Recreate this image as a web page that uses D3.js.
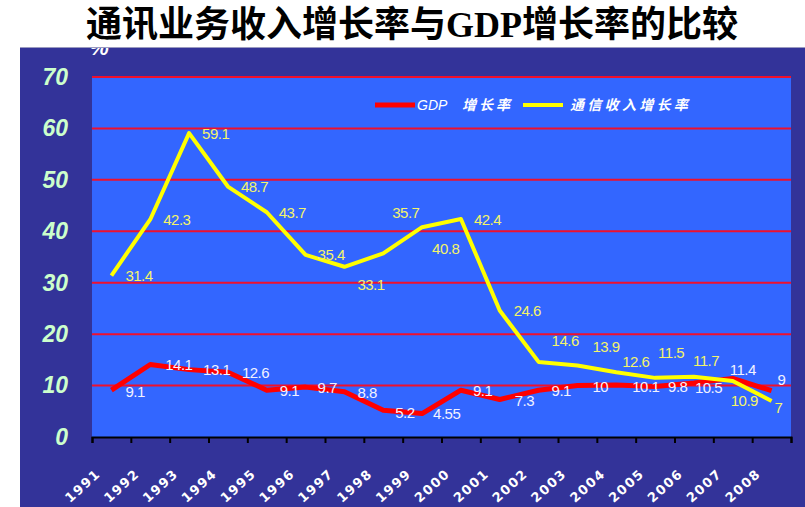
<!DOCTYPE html>
<html>
<head>
<meta charset="utf-8">
<script src="https://cdn.jsdelivr.net/npm/d3@7"></script>
<style>
  body { margin: 0; background: #fff; }
  svg { display: block; }
</style>
</head>
<body>
<div id="chart"></div>
<script>
// chart values
const years = ["1991","1992","1993","1994","1995","1996","1997","1998","1999",
               "2000","2001","2002","2003","2004","2005","2006","2007","2008"];
const gdpGrowth = [9.1, 14.1, 13.1, 12.6, 9.1, 9.7, 8.8, 5.2, 4.55,
                   9.1, 7.3, 9.1, 10, 10.1, 9.8, 10.5, 11.4, 9];
const telecomGrowth = [31.4, 42.3, 59.1, 48.7, 43.7, 35.4, 33.1, 35.7, 40.8,
                       42.4, 24.6, 14.6, 13.9, 12.6, 11.5, 11.7, 10.9, 7];
const yTicks = [0, 10, 20, 30, 40, 50, 60, 70];
const seriesNames = ["GDP 增长率", "通信收入增长率"];
const titleText = ["通讯业务收入增长率与", "GDP", "增长率的比较"];

// label nudges (px from each point), layout only
const gdpNudge = [[14,2],[15,0],[14,0],[14,1],[13,1],[12,1],[13,1],[12,2],[11,0],
                  [12,1],[15,1],[13,1],[15,1],[16,2],[13,0],[1,5],[-3,-9],[6,-11]];
const telNudge = [[14,0],[13,0],[13,1],[13,0],[12,0],[12,0],[13,18],[9,-41],[10,22],
                  [13,1],[14,0],[13,-21],[15,-19],[6,-10],[3,-25],[-1,-16],[-2,20],[3,7]];

const W = 805, H = 507;
const plot = {left: 92, right: 791, top: 77, bottom: 437};

const svg = d3.select("#chart").append("svg")
    .attr("width", W)
    .attr("height", H);

// navy backdrop
svg.append("rect")
    .attr("x", 20).attr("y", 47)
    .attr("width", W - 20).attr("height", H - 47)
    .attr("fill", "#333399");
svg.append("line")
    .attr("x1", 20).attr("x2", W).attr("y1", 47.5).attr("y2", 47.5)
    .attr("stroke", "#9a9ac0").attr("stroke-width", 1);

// title
const title = svg.append("text")
    .attr("x", 412)
    .attr("y", 37)
    .attr("text-anchor", "middle")
    .style("font-family", "'Noto Sans CJK SC'")
    .style("font-weight", "bold")
    .style("font-size", "36px")
    .attr("fill", "#000");
title.append("tspan").text(titleText[0]);
title.append("tspan").text(titleText[1])
    .style("font-family", "'Liberation Serif'");
title.append("tspan").text(titleText[2]);

// unit label, only its lower part shows inside the backdrop
svg.append("clipPath").attr("id", "unitClip")
  .append("rect")
    .attr("x", 20).attr("y", 48).attr("width", 200).attr("height", 30);
svg.append("text")
    .attr("clip-path", "url(#unitClip)")
    .attr("x", 99).attr("y", 55)
    .attr("text-anchor", "middle")
    .style("font-family", "'Liberation Sans'")
    .style("font-weight", "bold")
    .style("font-style", "italic")
    .style("font-size", "22px")
    .attr("fill", "#fff")
    .text("%");

// scales
const x = d3.scaleBand()
    .domain(years)
    .range([plot.left, plot.right])
    .padding(0);
const xEdge = d3.scaleLinear()
    .domain([0, years.length])
    .range([plot.left, plot.right]);
const y = d3.scaleLinear()
    .domain([0, 70])
    .range([plot.bottom, plot.top]);
const cx = d => x(d) + x.bandwidth() / 2;

// plot area
svg.append("rect")
    .attr("x", plot.left).attr("y", plot.top)
    .attr("width", plot.right - plot.left)
    .attr("height", plot.bottom - plot.top)
    .attr("fill", "#3366ff");

// gridlines
svg.append("g")
    .selectAll("line")
    .data(yTicks.filter(d => d > 0))
    .join("line")
      .attr("x1", plot.left).attr("x2", plot.right)
      .attr("y1", d => y(d)).attr("y2", d => y(d))
      .attr("stroke", "#f0102c")
      .attr("stroke-width", 2);

// y axis labels
const yAxis = svg.append("g")
    .attr("transform", `translate(${plot.left},0)`)
    .call(d3.axisLeft(y).tickValues(yTicks).tickSize(0).tickPadding(24));
yAxis.select(".domain").remove();
yAxis.selectAll("text")
    .style("font-family", "'Liberation Sans'")
    .style("font-weight", "bold")
    .style("font-style", "italic")
    .style("font-size", "23px")
    .attr("fill", "#ccffcc");

// x axis
const xAxis = svg.append("g")
    .attr("transform", `translate(0,${plot.bottom})`)
    .call(d3.axisBottom(xEdge).ticks(years.length).tickSize(6).tickFormat(""));
xAxis.select(".domain").attr("stroke", "#000").attr("stroke-width", 2);
xAxis.selectAll(".tick line").attr("stroke", "#000").attr("stroke-width", 2);

svg.append("g")
    .selectAll("text")
    .data(years)
    .join("text")
      .attr("transform", d => `translate(${cx(d) - 10},${plot.bottom + 38}) rotate(-42)`)
      .attr("text-anchor", "end")
      .style("font-family", "'DejaVu Sans'")
      .style("font-weight", "bold")
      .style("font-size", "13px")
      .style("letter-spacing", "1.5px")
      .attr("fill", "#fff")
      .text(d => d);

// lines
const line = d3.line()
    .x((d, i) => cx(years[i]))
    .y(d => y(d));

svg.append("path")
    .datum(gdpGrowth)
    .attr("d", line)
    .attr("fill", "none")
    .attr("stroke", "#ff0000")
    .attr("stroke-width", 5)
    .attr("stroke-linejoin", "round");

svg.append("path")
    .datum(telecomGrowth)
    .attr("d", line)
    .attr("fill", "none")
    .attr("stroke", "#ffff00")
    .attr("stroke-width", 4)
    .attr("stroke-linejoin", "round");

// data labels
function labels(values, nudge, color) {
  svg.append("g")
    .selectAll("text")
    .data(values)
    .join("text")
      .attr("x", (d, i) => cx(years[i]) + nudge[i][0])
      .attr("y", (d, i) => y(d) + nudge[i][1])
      .attr("dy", "0.35em")
      .style("font-family", "'Liberation Sans'")
      .style("font-size", "15px")
      .style("letter-spacing", "-0.5px")
      .attr("fill", color)
      .text(d => d);
}
labels(telecomGrowth, telNudge, "#f4f46a");
labels(gdpGrowth, gdpNudge, "#f2f2ff");

// legend
const legend = svg.append("g");
const legendItems = [
  {color: "#ff0000", x: 375, w: 5},
  {color: "#ffff00", x: 523, w: 4}
];
legendItems.forEach(item => {
  legend.append("line")
    .attr("x1", item.x).attr("x2", item.x + 40)
    .attr("y1", 105).attr("y2", 105)
    .attr("stroke", item.color)
    .attr("stroke-width", item.w);
});
const lg1 = legend.append("text")
    .attr("x", 417).attr("y", 105).attr("dy", "0.35em")
    .attr("fill", "#fff")
    .style("font-style", "italic")
    .style("font-size", "14px");
lg1.append("tspan").text(seriesNames[0].split(" ")[0])
    .style("font-family", "'Liberation Sans'");
lg1.append("tspan").attr("x", 462).text(seriesNames[0].split(" ")[1])
    .style("font-family", "'Noto Sans CJK SC'")
    .style("font-weight", "bold")
    .style("letter-spacing", "3px");
legend.append("text")
    .attr("x", 570).attr("y", 105).attr("dy", "0.35em")
    .attr("fill", "#fff")
    .style("font-family", "'Noto Sans CJK SC'")
    .style("font-weight", "bold")
    .style("font-style", "italic")
    .style("font-size", "14px")
    .style("letter-spacing", "3.3px")
    .text(seriesNames[1]);
</script>
</body>
</html>
